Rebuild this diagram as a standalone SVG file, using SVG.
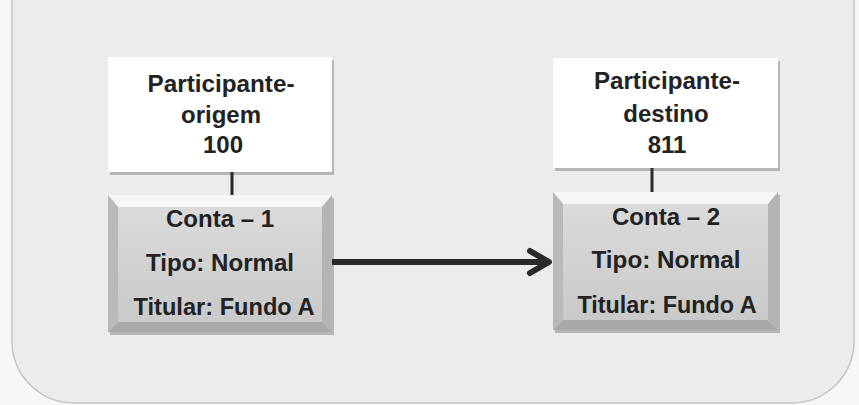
<svg xmlns="http://www.w3.org/2000/svg" width="859" height="405" viewBox="0 0 859 405">
  <style>
    .t { font-family: "Liberation Sans", Arial, sans-serif; font-weight: bold; font-size: 24px; fill: #222; text-anchor: middle; }
    .top { fill: #ffffff; }
    .shadow { fill: #8a8a8a; opacity: 0.55; }
    .conn { stroke: #2a2a2a; fill: none; }
  </style>
  <defs>
    <linearGradient id="body" x1="0" y1="0" x2="0" y2="1">
      <stop offset="0" stop-color="#dcdcdc"/>
      <stop offset="1" stop-color="#c8c8c8"/>
    </linearGradient>
    <marker id="arrow" markerUnits="userSpaceOnUse" markerWidth="30" markerHeight="30" refX="24" refY="15" orient="auto">
      <path d="M4,4 L23,15 L4,26" fill="none" stroke="#2a2a2a" stroke-width="6" stroke-linecap="round" stroke-linejoin="round"/>
    </marker>
  </defs>

  <rect x="0" y="0" width="859" height="405" fill="#f7f7f7"/>
  <rect x="12" y="-60" width="842" height="463" rx="62" ry="62" fill="#ececec" stroke="#c4c4c4" stroke-width="1.5"/>

  <g id="participante-origem">
    <rect class="shadow" x="110" y="60" width="224" height="115"/>
    <rect class="top" x="108" y="57" width="224" height="115"/>
    <text class="t" x="221" y="92" textLength="147" lengthAdjust="spacingAndGlyphs">Participante-</text>
    <text class="t" x="221" y="123">origem</text>
    <text class="t" x="223" y="153">100</text>
  </g>

  <g id="conta-1">
    <rect class="shadow" x="110" y="198" width="224" height="137"/>
    <rect x="108" y="195" width="224" height="137" fill="url(#body)"/>
    <polygon points="108,195 332,195 322,207 118,207" fill="#f6f6f6"/>
    <polygon points="108,195 118,207 118,322 108,332" fill="#b9b9b9"/>
    <polygon points="332,195 322,207 322,322 332,332" fill="#b4b4b4"/>
    <polygon points="108,332 118,322 322,322 332,332" fill="#a9a9a9"/>
    <text class="t" x="220" y="227">Conta – 1</text>
    <text class="t" x="220" y="271" textLength="148" lengthAdjust="spacingAndGlyphs">Tipo: Normal</text>
    <text class="t" x="224" y="315" textLength="181" lengthAdjust="spacingAndGlyphs">Titular: Fundo A</text>
  </g>

  <g id="participante-destino">
    <rect class="shadow" x="555" y="61" width="225" height="110"/>
    <rect class="top" x="553" y="58" width="225" height="110"/>
    <text class="t" x="667" y="89" textLength="146" lengthAdjust="spacingAndGlyphs">Participante-</text>
    <text class="t" x="666" y="122">destino</text>
    <text class="t" x="667" y="153">811</text>
  </g>

  <g id="conta-2">
    <rect class="shadow" x="555" y="195" width="225" height="138"/>
    <rect x="553" y="192" width="225" height="138" fill="url(#body)"/>
    <polygon points="553,192 778,192 768,204 563,204" fill="#f6f6f6"/>
    <polygon points="553,192 563,204 563,320 553,330" fill="#b9b9b9"/>
    <polygon points="778,192 768,204 768,320 778,330" fill="#b4b4b4"/>
    <polygon points="553,330 563,320 768,320 778,330" fill="#a9a9a9"/>
    <text class="t" x="666" y="225">Conta – 2</text>
    <text class="t" x="666" y="268" textLength="149" lengthAdjust="spacingAndGlyphs">Tipo: Normal</text>
    <text class="t" x="667" y="313" textLength="179" lengthAdjust="spacingAndGlyphs">Titular: Fundo A</text>
  </g>

  <g id="connectors">
    <line class="conn" x1="232" y1="172" x2="232" y2="195" stroke-width="3"/>
    <line class="conn" x1="652" y1="168" x2="652" y2="192" stroke-width="3"/>
    <line class="conn" x1="332" y1="262" x2="550" y2="262" stroke-width="6" marker-end="url(#arrow)"/>
  </g>
</svg>
